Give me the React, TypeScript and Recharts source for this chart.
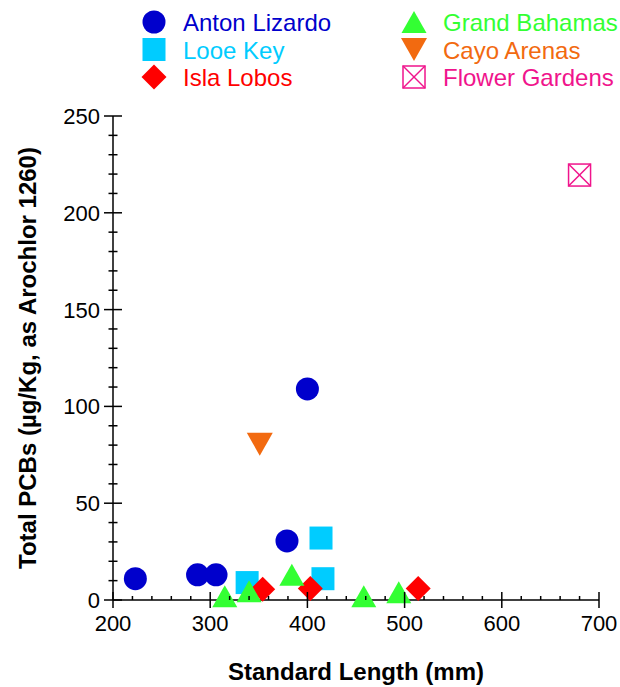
import React from 'react';
import { ScatterChart, Scatter, XAxis, YAxis, Legend } from 'recharts';

// standard length (mm) vs total PCBs (ug/Kg) per site
const antonLength = [223, 287, 306, 379, 400];
const antonPcb = [11, 13, 13, 30.5, 109];
const looeLength = [338, 414, 416];
const looePcb = [9, 32, 11];
const islaLength = [354, 403, 514];
const islaPcb = [5.5, 6, 6];
const grandLength = [315, 340, 384, 458, 494];
const grandPcb = [2, 4.5, 13, 2, 4];
const cayoLength = [351];
const cayoPcb = [80.5];
const flowerLength = [680];
const flowerPcb = [219.5];

const lengthTicks = [200, 220, 240, 260, 280, 300, 320, 340, 360, 380, 400, 420, 440, 460, 480, 500, 520, 540, 560, 580, 600, 620, 640, 660, 680, 700];
const pcbTicks = [0, 10, 20, 30, 40, 50, 60, 70, 80, 90, 100, 110, 120, 130, 140, 150, 160, 170, 180, 190, 200, 210, 220, 230, 240, 250];

const BLUE = '#0000CC';
const CYAN = '#00CCFF';
const RED = '#FF0000';
const GREEN = '#33FF33';
const ORANGE = '#F26A10';
const PINK = '#F0148C';

const FONT = '"Liberation Sans", Arial, sans-serif';

const toPoints = (xs: number[], ys: number[]) => xs.map((x, i) => ({ x, y: ys[i] }));

const circle = (cx: number, cy: number) => <circle cx={cx} cy={cy} r={11.5} fill={BLUE} />;
const square = (cx: number, cy: number) => <rect x={cx - 11.5} y={cy - 11.5} width={23} height={23} fill={CYAN} />;
const diamond = (cx: number, cy: number) => (
  <polygon points={`${cx},${cy - 12.5} ${cx + 12.5},${cy} ${cx},${cy + 12.5} ${cx - 12.5},${cy}`} fill={RED} />
);
const triUp = (cx: number, cy: number) => (
  <polygon points={`${cx},${cy - 11} ${cx + 12.5},${cy + 11} ${cx - 12.5},${cy + 11}`} fill={GREEN} />
);
const triDown = (cx: number, cy: number) => (
  <polygon points={`${cx - 13},${cy - 11.5} ${cx + 13},${cy - 11.5} ${cx},${cy + 11.5}`} fill={ORANGE} />
);
const boxX = (cx: number, cy: number) => (
  <g stroke={PINK} strokeWidth={1.5} fill="none">
    <rect x={cx - 11} y={cy - 11} width={22} height={22} />
    <line x1={cx - 11} y1={cy - 11} x2={cx + 11} y2={cy + 11} />
    <line x1={cx + 11} y1={cy - 11} x2={cx - 11} y2={cy + 11} />
  </g>
);

const series = [
  { name: 'Anton Lizardo', xs: antonLength, ys: antonPcb, color: BLUE, mark: circle },
  { name: 'Looe Key', xs: looeLength, ys: looePcb, color: CYAN, mark: square },
  { name: 'Isla Lobos', xs: islaLength, ys: islaPcb, color: RED, mark: diamond },
  { name: 'Grand Bahamas', xs: grandLength, ys: grandPcb, color: GREEN, mark: triUp },
  { name: 'Cayo Arenas', xs: cayoLength, ys: cayoPcb, color: ORANGE, mark: triDown },
  { name: 'Flower Gardens', xs: flowerLength, ys: flowerPcb, color: PINK, mark: boxX },
];

const XTick = (props: any) => {
  const { x, y, payload } = props;
  const major = payload.value % 100 === 0;
  return (
    <g>
      <line x1={x} x2={x} y1={major ? y - 8 : y - 4} y2={major ? y + 8 : y} stroke="#000" strokeWidth={1.5} />
      {major && (
        <text x={x} y={y + 31} textAnchor="middle" fontSize={22} fill="#000" fontFamily={FONT}>
          {payload.value}
        </text>
      )}
    </g>
  );
};

const YTick = (props: any) => {
  const { x, y, payload } = props;
  const major = payload.value % 50 === 0;
  const len = major ? 9 : 4.5;
  return (
    <g>
      <line x1={x - len} x2={x + len} y1={y} y2={y} stroke="#000" strokeWidth={1.5} />
      {major && (
        <text x={x - 13} y={y} dy="0.36em" textAnchor="end" fontSize={22} fill="#000" fontFamily={FONT}>
          {payload.value}
        </text>
      )}
    </g>
  );
};

const LegendBox = () => (
  <svg width={620} height={95} style={{ display: 'block' }}>
    {series.map((s, i) => {
      const col = Math.floor(i / 3);
      const row = i % 3;
      const mx = col === 0 ? 154 : 414;
      const my = 22 + row * 27.5;
      return (
        <g key={s.name}>
          {s.mark(mx, my)}
          <text x={mx + 29} y={my + 9} fontSize={24} fill={s.color} fontFamily={FONT}>
            {s.name}
          </text>
        </g>
      );
    })}
  </svg>
);

export default function App() {
  return (
    <div style={{ position: 'absolute', left: 0, top: 0, fontFamily: FONT, background: '#fff' }}>
      <ScatterChart width={620} height={687} margin={{ top: 21, right: 21, bottom: 0, left: 0 }}>
        <Legend verticalAlign="top" align="left" width={620} content={LegendBox} wrapperStyle={{ top: 0, left: 0 }} />
        <XAxis
          type="number"
          dataKey="x"
          domain={[200, 700]}
          ticks={lengthTicks}
          interval={0}
          tickSize={0}
          tickMargin={0}
          tickLine={false}
          tick={<XTick />}
          height={87}
          axisLine={{ stroke: '#000', strokeWidth: 1.5 }}
          label={{ value: 'Standard Length (mm)', position: 'insideBottom', offset: 7, style: { fontSize: 24, fontWeight: 'bold', fill: '#000', fontFamily: FONT } }}
        />
        <YAxis
          type="number"
          dataKey="y"
          domain={[0, 250]}
          ticks={pcbTicks}
          interval={0}
          tickSize={0}
          tickMargin={0}
          tickLine={false}
          tick={<YTick />}
          width={113}
          axisLine={{ stroke: '#000', strokeWidth: 1.5 }}
          label={{ value: 'Total PCBs (µg/Kg, as Arochlor 1260)', angle: -90, position: 'insideLeft', offset: 27, style: { textAnchor: 'middle', fontSize: 24, fontWeight: 'bold', fill: '#000', fontFamily: FONT } }}
        />
        {series.map((s) => (
          <Scatter
            key={s.name}
            name={s.name}
            data={toPoints(s.xs, s.ys)}
            isAnimationActive={false}
            shape={(p: any) => s.mark(p.cx, p.cy)}
          />
        ))}
      </ScatterChart>
    </div>
  );
}
